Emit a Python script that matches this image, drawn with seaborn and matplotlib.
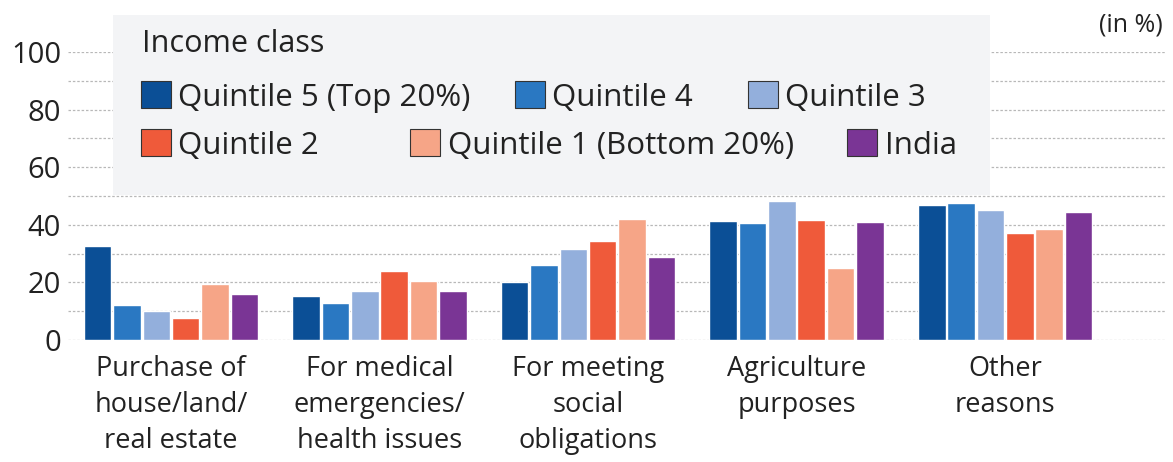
import seaborn as sns
import matplotlib.pyplot as plt
import pandas as pd
from matplotlib.patches import Patch, Rectangle
from matplotlib.ticker import MultipleLocator

# datos (en %)
reasons = ['Purchase of\nhouse/land/\nreal estate',
           'For medical\nemergencies/\nhealth issues',
           'For meeting\nsocial\nobligations',
           'Agriculture\npurposes',
           'Other\nreasons']
groups = ['Quintile 5 (Top 20%)', 'Quintile 4', 'Quintile 3',
          'Quintile 2', 'Quintile 1 (Bottom 20%)', 'India']
q5 = [32.7, 15.4, 20.3, 41.2, 46.8]
q4 = [12.1, 12.8, 25.9, 40.6, 47.4]
q3 = [10.1, 17.1, 31.6, 48.2, 45.1]
q2 = [7.6, 23.8, 34.3, 41.8, 37.2]
q1 = [19.6, 20.6, 42.0, 25.0, 38.5]
india = [16.0, 17.0, 28.7, 41.1, 44.6]
colors = ['#0b4f96', '#2a78c2', '#93afdc', '#ef5a3a', '#f6a587', '#7a3595']

series = [q5, q4, q3, q2, q1, india]
rows = []
for g, vals in zip(groups, series):
    for r, v in zip(reasons, vals):
        rows.append({'reason': r, 'group': g, 'value': v})
df = pd.DataFrame(rows)

sns.set_style('white')
plt.rcParams['font.family'] = ['Open Sans', 'DejaVu Sans']
W, H = 1173, 462
fig = plt.figure(figsize=(W / 100, H / 100), dpi=100)
ax = fig.add_axes([68 / W, 1 - 340 / H, (1165 - 68) / W, (340 - 52) / H])

sns.barplot(data=df, x='reason', y='value', hue='group', hue_order=groups,
            order=reasons, palette=colors, saturation=1, width=0.844, gap=0.06,
            legend=False, ax=ax, zorder=3)

ax.set_ylim(0, 100)
ax.set_xlim(-0.494, 4.767)
ax.yaxis.set_major_locator(MultipleLocator(20))
ax.yaxis.set_minor_locator(MultipleLocator(10))
ax.grid(axis='y', which='both', linestyle=(0, (2, 1.5)), color='#b8b8b8', lw=0.9)
ax.set_axisbelow(True)
for s in ax.spines.values():
    s.set_visible(False)
ax.tick_params(axis='both', which='both', length=0, colors='#222222')
ax.tick_params(axis='y', pad=5, labelsize=21)
ax.tick_params(axis='x', pad=11, labelsize=19.5)
for t in ax.get_xticklabels():
    t.set_linespacing(1.38)
ax.set_xlabel('')
ax.set_ylabel('')

# caja gris de la leyenda
box = Rectangle((113 / W, 1 - 195 / H), (990 - 113) / W, (195 - 15) / H,
                transform=fig.transFigure, facecolor='#f3f4f6', edgecolor='none',
                zorder=2, clip_on=False)
ax.add_patch(box)

fig.text(142 / W, 1 - 44 / H, 'Income class', fontsize=22, va='center',
         ha='left', color='#222222')

legend_pos = [(141, 97), (515, 97), (748, 97), (141, 145), (410, 145), (847, 145)]
for g, c, (px, py) in zip(groups, colors, legend_pos):
    h = Patch(facecolor=c, edgecolor='#333333', linewidth=0.8)
    fig.legend([h], [g], loc='center left', bbox_to_anchor=(px / W, 1 - py / H),
               frameon=False, fontsize=22.5, handlelength=0.95, handleheight=0.95,
               handletextpad=0.25, borderpad=0, borderaxespad=0,
               labelcolor='#222222')

fig.text(1163 / W, 1 - 25 / H, '(in %)', fontsize=18, ha='right', va='center',
         color='#222222')

plt.savefig('out.png', dpi=100)
